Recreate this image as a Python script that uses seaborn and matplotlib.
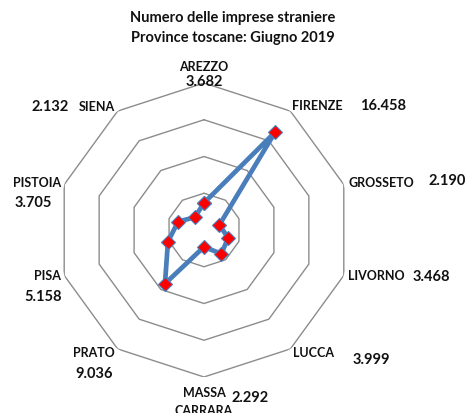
import numpy as np
import matplotlib
matplotlib.use("Agg")
import matplotlib.pyplot as plt
import seaborn as sns

# Data: foreign-owned companies per Tuscan province, June 2019
provinces = ["AREZZO", "FIRENZE", "GROSSETO", "LIVORNO", "LUCCA",
             "MASSA\nCARRARA", "PRATO", "PISA", "PISTOIA", "SIENA"]
imprese = [3682, 16458, 2190, 3468, 3999, 2292, 9036, 5158, 3705, 2132]
ring_values = [5000, 10000, 15000, 20000]

sns.set_theme(style="white")
plt.rcParams['font.family'] = ['Lato', 'DejaVu Sans']

W, H = 470, 413
fig = plt.figure(figsize=(W / 100, H / 100), dpi=100)

# polar axes centred at (204, 230) px, radius 147 px
cx, cy, rad = 204, 230, 147
ax = fig.add_axes([(cx - rad) / W, (H - cy - rad) / H, 2 * rad / W, 2 * rad / H],
                  projection="polar")
ax.set_theta_zero_location("N")
ax.set_theta_direction(-1)
ax.set_ylim(0, ring_values[-1])
ax.grid(False)
ax.spines["polar"].set_visible(False)
ax.set_xticks([])
ax.set_yticks([])
ax.patch.set_alpha(0)

n = len(provinces)
theta = np.linspace(0, 2 * np.pi, n, endpoint=False)
theta_closed = np.append(theta, theta[0])

# decagon rings
for rv in ring_values:
    ax.plot(theta_closed, [rv] * (n + 1), color="#8c8c8c", lw=1.0, zorder=1)

vals_closed = imprese + imprese[:1]
sns.lineplot(x=theta_closed, y=vals_closed, ax=ax, sort=False, estimator=None,
             color="#4a7ebb", lw=3.4, marker="D", markersize=7,
             markerfacecolor="#ff0000", markeredgecolor="#4a7ebb",
             markeredgewidth=0.8, zorder=3)

# title
fig.text(233 / W, 1 - 18 / H, "Numero delle imprese straniere", ha="center", va="center",
         fontsize=10.5, fontweight="bold", color="#111111")
fig.text(233 / W, 1 - 38 / H, "Province toscane: Giugno 2019", ha="center", va="center",
         fontsize=10.5, fontweight="bold", color="#111111")

# label placement (pixel centres) for names and values
name_pos = [(204, 67), (317, 106), (381, 183), (376, 276), (313, 353),
            (204, 402), (94, 353), (47, 276), (37, 183), (97, 107)]
value_pos = [(204, 82), (383, 106), (447, 181), (431, 277), (371, 360),
             (250, 398), (94, 374), (43, 297), (33, 203), (50, 107)]

for name, v, (nx, ny), (vx, vy) in zip(provinces, imprese, name_pos, value_pos):
    fig.text(nx / W, 1 - ny / H, name, ha="center", va="center", fontsize=9,
             fontweight="bold", color="#111111", linespacing=1.55)
    fig.text(vx / W, 1 - vy / H, f"{v:,}".replace(",", "."), ha="center", va="center",
             fontsize=10.5, fontweight="bold", color="#111111")

fig.savefig("out.png", dpi=100)
